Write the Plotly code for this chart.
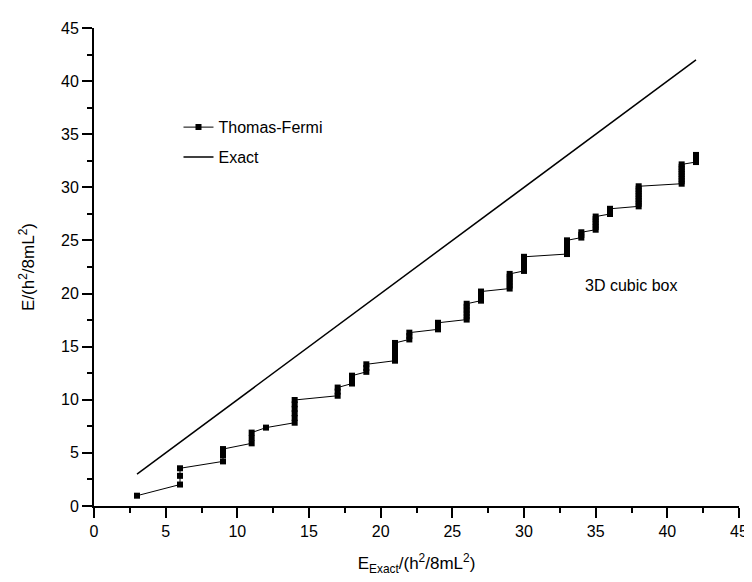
import plotly.graph_objects as go

# Exact energy levels of a particle in a 3D cubic box (units h^2/8mL^2)
exact_levels = [3, 6, 9, 11, 12, 14, 17, 18, 19, 21, 22, 24, 26, 27, 29, 30, 33, 34, 35, 36, 38, 41, 42]

# Thomas-Fermi estimates for each state, grouped by the exact level they belong to
tf_by_level = [
    [0.97],
    [2.02, 2.84, 3.55],
    [4.20, 4.80, 5.36],
    [5.90, 6.41, 6.91],
    [7.38],
    [7.84, 8.29, 8.73, 9.15, 9.57, 9.98],
    [10.38, 10.77, 11.15],
    [11.53, 11.90, 12.27],
    [12.63, 12.99, 13.34],
    [13.68, 14.03, 14.36, 14.70, 15.03, 15.35],
    [15.68, 16.00, 16.32],
    [16.63, 16.94, 17.25],
    [17.55, 17.85, 18.15, 18.45, 18.75, 19.04],
    [19.33, 19.62, 19.91, 20.19],
    [20.47, 20.75, 21.03, 21.31, 21.58, 21.85],
    [22.13, 22.39, 22.66, 22.93, 23.20, 23.46],
    [23.72, 23.98, 24.24, 24.50, 24.76, 25.01],
    [25.27, 25.52, 25.77],
    [26.01, 26.27, 26.51, 26.76, 27.01, 27.25],
    [27.49, 27.73, 27.98],
    [28.21, 28.45, 28.69, 28.93, 29.16, 29.40, 29.63, 29.87, 30.10],
    [30.34, 30.57, 30.80, 31.03, 31.26, 31.48, 31.71, 31.93, 32.16],
    [32.38, 32.60, 32.83, 33.05],
]

tick_vals = [0, 5, 10, 15, 20, 25, 30, 35, 40, 45]

tf_x = []
tf_y = []
for lvl, vals in zip(exact_levels, tf_by_level):
    for v in vals:
        tf_x.append(lvl)
        tf_y.append(v)

FONT = "Liberation Sans, Arial, sans-serif"

fig = go.Figure()
fig.add_trace(go.Scatter(
    x=tf_x, y=tf_y, mode="lines+markers", name="Thomas-Fermi",
    line=dict(color="black", width=1),
    marker=dict(symbol="square", size=6, color="black"),
    legendgroup="a",
))
fig.add_trace(go.Scatter(
    x=exact_levels, y=exact_levels, mode="lines", name="Exact",
    line=dict(color="black", width=1.5),
    legendgroup="b",
))

axis_common = dict(
    range=[0, 45], tickvals=tick_vals, showgrid=False, zeroline=False,
    showline=True, linecolor="black", linewidth=2,
    ticks="outside", ticklen=10, tickwidth=2, tickcolor="black",
    tickfont=dict(family=FONT, size=16, color="black"),
    minor=dict(dtick=2.5, tick0=0, ticks="outside", ticklen=5, tickwidth=2, tickcolor="black"),
)

fig.update_layout(
    width=752, height=582,
    margin=dict(l=86, r=13, t=16, b=84),
    paper_bgcolor="white", plot_bgcolor="white",
    font=dict(family=FONT, size=16, color="black"),
    xaxis=dict(**axis_common,
               title=dict(text="E<sub>Exact</sub>/(h<sup>2</sup>/8mL<sup>2</sup>)",
                          font=dict(family=FONT, size=17), standoff=18)),
    yaxis=dict(**axis_common,
               title=dict(text="E/(h<sup>2</sup>/8mL<sup>2</sup>)",
                          font=dict(family=FONT, size=17), standoff=22)),
    legend=dict(x=0.131, y=0.828, xanchor="left", yanchor="top",
                bgcolor="rgba(0,0,0,0)", borderwidth=0,
                traceorder="grouped", tracegroupgap=6,
                font=dict(family=FONT, size=16)),
    annotations=[dict(x=37.5, y=20.8, xref="x", yref="y", text="3D cubic box",
                      showarrow=False, font=dict(family=FONT, size=16))],
)

fig.write_html("out.html")
